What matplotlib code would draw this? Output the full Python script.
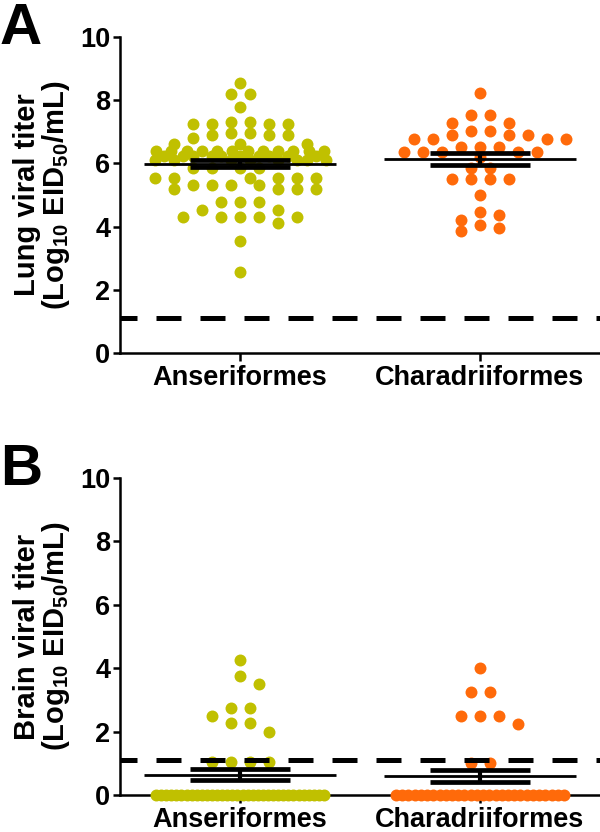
import numpy as np
import matplotlib
matplotlib.use('Agg')
import matplotlib.pyplot as plt

plt.rcParams['font.family'] = ['Liberation Sans', 'DejaVu Sans']
plt.rcParams['font.weight'] = 'bold'
plt.rcParams['mathtext.default'] = 'regular'

#----------------------------------------------------------
# DATA
#----------------------------------------------------------
groups = ['Anseriformes', 'Charadriiformes']
colors = ['#C0C000', '#FF6A0A']
detect_limit = 1.1

lung_anser = [8.54, 8.2, 8.2, 7.78, 7.32, 7.32, 7.25, 7.25, 7.25, 7.25,
              6.97, 6.97, 6.9, 6.9, 6.9, 6.8, 6.6, 6.6, 6.6,
              6.4, 6.4, 6.4, 6.4, 6.4, 6.4, 6.4, 6.4, 6.4, 6.4, 6.4, 6.4,
              6.25, 6.25, 6.25, 6.25, 6.25, 6.25, 6.25, 6.25, 6.25, 6.25,
              6.1, 6.1, 6.1, 6.1, 6.1, 6.1, 6.1, 6.1,
              5.85, 5.85, 5.85, 5.85,
              5.55, 5.55, 5.55, 5.55, 5.55, 5.55,
              5.32, 5.32, 5.32, 5.32, 5.2, 5.2, 5.2, 5.2,
              4.78, 4.78, 4.78, 4.53, 4.53,
              4.29, 4.29, 4.29, 4.29, 4.29, 4.12, 3.54, 2.57]
lung_chara = [8.22, 7.54, 7.54, 7.28, 7.28, 7.02, 7.02, 6.89, 6.89, 6.89,
              6.76, 6.76, 6.76, 6.76, 6.52, 6.52, 6.52, 6.35, 6.35, 6.35,
              6.35, 6.35, 6.2, 5.85, 5.85, 5.5, 5.5, 5.5, 5.5, 5.0,
              4.46, 4.36, 4.22, 4.04, 3.97, 3.86]

brain_anser = [4.26, 3.75, 3.5, 2.75, 2.75, 2.5, 2.26, 2.26, 2.0,
               1.05, 1.05, 1.05, 1.05,
               0, 0, 0, 0, 0, 0, 0, 0, 0, 0, 0, 0, 0, 0, 0, 0, 0, 0,
               0, 0, 0, 0, 0, 0, 0, 0, 0, 0, 0, 0, 0, 0, 0, 0]
brain_chara = [4.0, 3.24, 3.24, 2.5, 2.5, 2.5, 2.24, 1.02, 1.02,
               0, 0, 0, 0, 0, 0, 0, 0, 0, 0, 0, 0, 0, 0, 0, 0, 0, 0,
               0, 0, 0, 0, 0, 0, 0, 0, 0, 0]

panels = [('A', 'Lung viral titer', [lung_anser, lung_chara]),
          ('B', 'Brain viral titer', [brain_anser, brain_chara])]


#----------------------------------------------------------
# HELPERS
#----------------------------------------------------------
def swarm(ax, xc, vals, color, step=9.5, half=86, dy_thr=10):
    # Prism-like scatter: slots every half dot spacing, points within
    # dy_thr pixels of each other must sit one full spacing apart
    vals = np.asarray(vals, float)
    pix = ax.transData.transform(np.column_stack([np.full(vals.size, xc), vals]))
    y = pix[:, 1]
    k = np.arange(1, int(half // step) + 1) * step
    cand_a = np.concatenate([[0.0], np.column_stack([k, -k]).ravel()])
    cand_b = np.concatenate([[0.0], np.column_stack([-k, k]).ravel()])
    offs = np.zeros(vals.size)
    px, py = [], []

    def check(xx, yy):
        xx = np.atleast_1d(xx)
        if not px:
            return np.zeros(xx.size, bool), np.full(xx.size, np.inf)
        dx = np.abs(xx[:, None] - np.array(px)[None, :])
        dy = np.abs(yy - np.array(py))[None, :]
        bad = ((dx < 2 * step - 0.5) & (dy < dy_thr)).any(axis=1)
        return bad, np.hypot(dx, dy).min(axis=1)

    flip = False
    uniq, counts = np.unique(vals, return_counts=True)
    for u, c in zip(uniq[::-1], counts[::-1]):
        idx = np.nonzero(vals == u)[0]
        yy = y[idx[0]]
        if c * 2 * step > 2 * half + 2 * step:
            row = np.linspace(-half + 2, half - 2, c)   # crowded: compress
        else:
            row = (np.arange(c) - (c - 1) / 2) * 2 * step
            if check(row, yy)[0].any():
                row = None
        if row is not None:
            offs[idx] = row
            px.extend(row)
            py.extend([yy] * c)
            continue
        for i in idx:
            cand = cand_b if flip else cand_a
            flip = not flip
            bad, dist = check(cand, yy)
            ok = np.nonzero(~bad)[0]
            j = ok[0] if ok.size else int(np.argmax(dist))
            offs[i] = cand[j]
            px.append(cand[j])
            py.append(yy)
    xs = ax.transData.inverted().transform(np.column_stack([pix[:, 0] + offs, y]))[:, 0]
    ax.scatter(xs, vals, s=74, color=color, linewidths=0, zorder=3, clip_on=False)


def mean_sem(ax, xc, vals):
    vals = np.asarray(vals, float)
    m = vals.mean()
    se = vals.std(ddof=1) / np.sqrt(vals.size)
    ax.hlines(m, xc - 0.4, xc + 0.4, color='k', lw=2, zorder=4)
    ax.hlines([m - se, m + se], xc - 0.21, xc + 0.21, color='k', lw=3.4, zorder=4)
    ax.vlines(xc, m - se, m + se, color='k', lw=3, zorder=4)


#----------------------------------------------------------
# FIGURE
#----------------------------------------------------------
fig = plt.figure(figsize=(6, 8.32), dpi=100)
boxes = [[0.2, 1 - 353 / 832, 0.8, 316 / 832],
         [0.2, 1 - 795 / 832, 0.8, 317 / 832]]

for (letter, title, data), box in zip(panels, boxes):
    ax = fig.add_axes(box)
    ax.set_xlim(-0.5, 1.5)
    ax.set_ylim(0, 10)
    for sp in ['top', 'right']:
        ax.spines[sp].set_visible(False)
    for sp in ['left', 'bottom']:
        ax.spines[sp].set_linewidth(1.8)
    ax.set_yticks([0, 2, 4, 6, 8, 10])
    ax.set_xticks(range(len(groups)))
    ax.set_xticklabels(groups, fontsize=19.5, fontweight='bold')
    ax.tick_params(axis='y', length=5, width=1.8, pad=2, labelsize=19.5)
    ax.tick_params(axis='x', length=5.5, width=1.8, pad=3)

    for k, vals in enumerate(data):
        swarm(ax, k, vals, colors[k])
        mean_sem(ax, k, vals)

    ax.axhline(detect_limit, color='k', lw=3.6, ls=(1.6, (5, 3.8)), zorder=5)

    ax.set_ylabel(title + '\n(Log$_{10}$ EID$_{50}$/mL)', fontsize=21,
                  fontweight='bold', linespacing=0.95)
    ax.yaxis.set_label_coords(-0.1, 0.5)

    fig.text(0.0, (box[1] + box[3]) + 35 / 832, letter, fontsize=42,
             fontweight='bold', va='top', ha='left')

fig.savefig('out.png', dpi=100)
